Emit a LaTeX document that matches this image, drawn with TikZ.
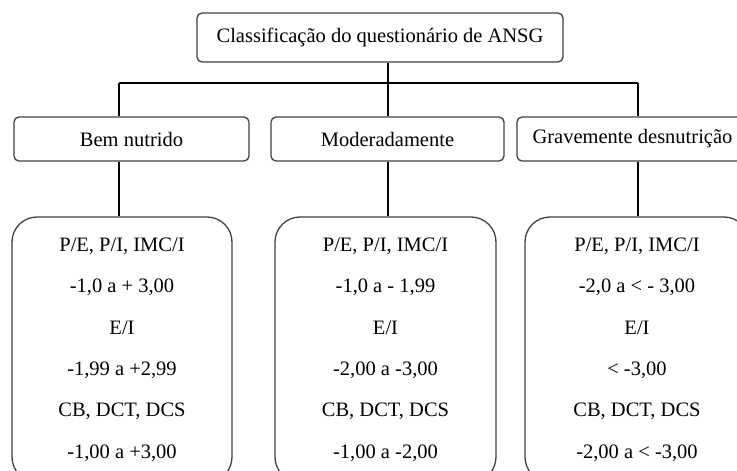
\documentclass[tikz,border=0pt]{standalone}
\usepackage{fontspec}
\setmainfont{Liberation Serif}
\definecolor{boxgray}{HTML}{404040}

\begin{document}
\begin{tikzpicture}[x=1pt, y=-1pt,
        every node/.style={font=\fontsize{20.5}{41.4}\selectfont},
        cat/.style={draw=boxgray, line width=1.3pt, rounded corners=5pt, minimum height=44pt, inner sep=0pt},
        crit/.style={draw=boxgray, line width=1.3pt, rounded corners=25pt, minimum height=265pt, align=center, inner sep=0pt}]
        \clip (0,0) rectangle (737,471);

        \node[cat, minimum width=366pt, minimum height=49pt] (root) at (380,37.5) {Classificação do questionário de ANSG};

        \node[cat, minimum width=235pt] (bem) at (131.5,139) {Bem nutrido};
        \node[cat, minimum width=233pt] (mod) at (387.5,139) {Moderadamente};
        \node[cat, minimum width=231pt] (grav) at (632.5,139) {Gravemente desnutrição};

        \node[crit, minimum width=220pt] (valA) at (122,349.5) {P/E, P/I, IMC/I\\-1,0 a + 3,00\\E/I\\-1,99 a +2,99\\CB, DCT, DCS\\-1,00 a +3,00};
        \node[crit, minimum width=221pt] (valB) at (385.5,349.5) {P/E, P/I, IMC/I\\-1,0 a - 1,99\\E/I\\-2,00 a -3,00\\CB, DCT, DCS\\-1,00 a -2,00};
        \node[crit, minimum width=224pt] (valC) at (637,349.5) {P/E, P/I, IMC/I\\-2,0 a < - 3,00\\E/I\\< -3,00\\CB, DCT, DCS\\-2,00 a < -3,00};

        \coordinate (colA) at (119,83);
        \coordinate (colB) at (388,83);
        \coordinate (colC) at (638,83);

        \draw[line width=1.2pt] (root.south -| colB) -- (colB);
        \draw[line width=1.2pt] (colA) -- (colC);
        \draw[line width=1.2pt] (colA) -- (colA |- bem.north);
        \draw[line width=1.2pt] (colB) -- (colB |- mod.north);
        \draw[line width=1.2pt] (colC) -- (colC |- grav.north);

        \draw[line width=1.2pt] (bem.south -| colA) -- (valA.north -| colA);
        \draw[line width=1.2pt] (mod.south -| colB) -- (valB.north -| colB);
        \draw[line width=1.2pt] (grav.south -| colC) -- (valC.north -| colC);
    \end{tikzpicture}
\end{document}
